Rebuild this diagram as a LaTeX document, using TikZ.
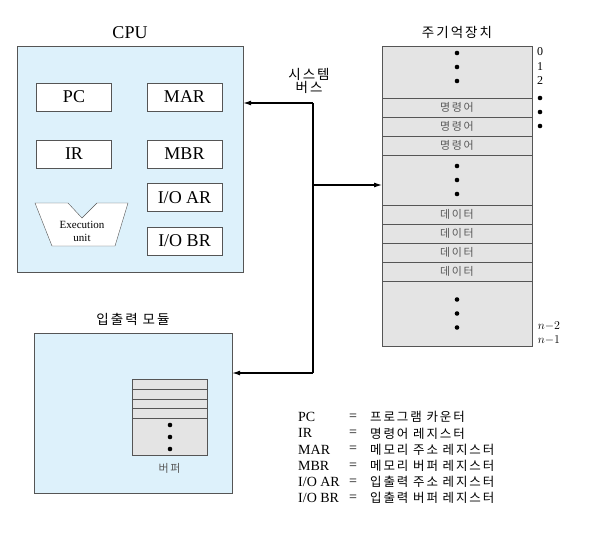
\documentclass[tikz,border=0pt]{standalone}
\usepackage{fontspec}
\setmainfont{Liberation Serif}
\newfontfamily\kr[LetterSpace=15]{Noto Sans CJK KR}
\usepackage{xcolor}
\usetikzlibrary{arrows.meta,positioning,calc}
\definecolor{cpublue}{HTML}{DDF1FB}
\definecolor{memgray}{HTML}{E4E4E4}
\definecolor{edgegray}{HTML}{555555}

\begin{document}
\begin{tikzpicture}[x=1pt,y=-1pt,>={Latex[length=8pt,width=5pt]},
  reg/.style={rectangle,draw=edgegray,fill=white,minimum width=75pt,minimum height=28pt,inner sep=0pt,font=\fontsize{18}{18}\selectfont},
  cell/.style={rectangle,draw=edgegray,fill=memgray,minimum width=150pt,inner sep=0pt,outer sep=0pt,text=black!65,font=\kr\fontsize{11}{11}\selectfont},
  unitbox/.style={rectangle,draw=edgegray,fill=cpublue,inner sep=0pt},
  title/.style={font=\kr\fontsize{13.5}{13.5}\selectfont},
  bus/.style={line width=1.1pt}]
 \useasboundingbox (0,0) rectangle (593,535);

 % CPU
 \node[unitbox,minimum width=226pt,minimum height=226pt] (cpu) at (130,159) {};
 \node[above=4pt of cpu,font=\fontsize{18}{18}\selectfont] (cpulbl) {CPU};
 \node[reg] (pc) at (74,97) {PC};
 \node[reg] (mar) at (184.5,97) {MAR};
 \node[reg] (ir) at (74,154) {IR};
 \node[reg] (mbr) at (184.5,154) {MBR};
 \node[reg] (ioar) at (184.5,197.5) {I/O AR};
 \node[reg] (iobr) at (184.5,241) {I/O BR};
 \draw[edgegray,fill=white] (35,203) -- (68,203) -- (82,218) -- (97,203) -- (128,203)
   -- (115,246) -- (52,246) -- cycle;
 \node[align=center,font=\fontsize{11}{13}\selectfont] (exunit) at (82,231) {Execution\\unit};

 % main memory
 \node[cell,minimum height=52pt,anchor=north] (m0) at (457,46) {};
 \node[cell,minimum height=19pt,below=0pt of m0] (ins1) {명령어};
 \node[cell,minimum height=19pt,below=0pt of ins1] (ins2) {명령어};
 \node[cell,minimum height=19pt,below=0pt of ins2] (ins3) {명령어};
 \node[cell,minimum height=50pt,below=0pt of ins3] (m1) {};
 \node[cell,minimum height=19pt,below=0pt of m1] (dat1) {데이터};
 \node[cell,minimum height=19pt,below=0pt of dat1] (dat2) {데이터};
 \node[cell,minimum height=19pt,below=0pt of dat2] (dat3) {데이터};
 \node[cell,minimum height=19pt,below=0pt of dat3] (dat4) {데이터};
 \node[cell,minimum height=65pt,below=0pt of dat4] (m2) {};
 \node[title,above=4pt of m0] (memlbl) {주기억장치};
 \foreach \d in {7,21,35} \fill ($(m0.north)+(0,\d)$) circle (2.3pt);
 \foreach \d in {-14,0,14} {
   \fill ($(m1.center)+(0,\d)$) circle (2.3pt);
   \fill ($(m2.center)+(0,\d)$) circle (2.3pt);
 }
 \foreach \n/\y in {0/52,1/67,2/81}
   \node[font=\fontsize{12}{12}\selectfont,inner sep=0pt] (a\n) at (540,\y) {\n};
 \foreach \y in {98,112,126} \fill (540,\y) circle (2.3pt);
 \node[font=\fontsize{12}{12}\selectfont,inner sep=0pt] (an2) at (549,326) {$n{-}2$};
 \node[font=\fontsize{12}{12}\selectfont,inner sep=0pt] (an1) at (549,340) {$n{-}1$};

 % I/O module
 \node[unitbox,minimum width=198pt,minimum height=160pt] (io) at (133,413) {};
 \node[title,above=4pt of io] (iolbl) {입출력 모듈};
 \node[rectangle,draw=edgegray,fill=memgray,minimum width=75pt,minimum height=76pt,inner sep=0pt] (buf) at (169.5,417) {};
 \foreach \y in {10,20,29,39} \draw[edgegray] ($(buf.north west)+(0,\y)$) -- ($(buf.north east)+(0,\y)$);
 \foreach \y in {425,437,449} \fill (170,\y) circle (2.3pt);
 \node[font=\kr\fontsize{11}{11}\selectfont,text=black!65,below=5pt of buf] (buflbl) {버퍼};

 % system bus
 \coordinate (busTop) at (313,103);
 \coordinate (busMem) at (313,185);
 \coordinate (busBot) at (313,373);
 \node[align=center,font=\kr\fontsize{13.5}{13}\selectfont] (buslbl) at (309,81) {시스템\\버스};
 \draw[bus,->] (busTop) -- (busTop -| cpu.east);
 \draw[bus] (busTop) -- (busBot);
 \draw[bus,->] (busMem) -- (busMem -| m1.west);
 \draw[bus,->] (busBot) -- (busBot -| io.east);

 % legend
 \foreach \a/\b [count=\i] in {PC/프로그램 카운터,IR/명령어 레지스터,MAR/메모리 주소 레지스터,
   MBR/메모리 버퍼 레지스터,{I/O AR}/입출력 주소 레지스터,{I/O BR}/입출력 버퍼 레지스터} {
   \node[anchor=west,inner sep=0pt,font=\fontsize{14}{14}\selectfont] (abbr\i) at (298,{401+16.2*\i}) {\a};
   \node[inner sep=0pt,font=\fontsize{14}{14}\selectfont] (eq\i) at (353,{401+16.2*\i}) {=};
   \node[anchor=west,inner sep=0pt,font=\kr\fontsize{12.5}{12.5}\selectfont] (desc\i) at (370,{401+16.2*\i}) {\b};
 }
\end{tikzpicture}
\end{document}
